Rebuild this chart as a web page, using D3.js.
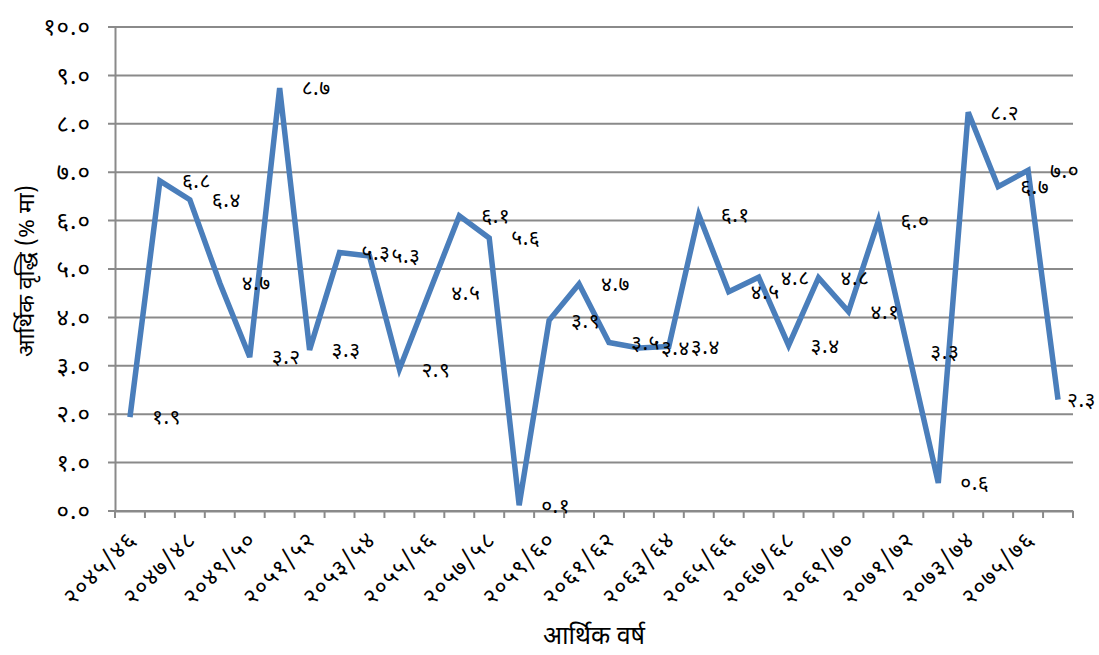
<!DOCTYPE html>
<html>
<head>
<meta charset="utf-8">
<script src="https://cdn.jsdelivr.net/npm/d3@7"></script>
<style>
  body { margin: 0; background: #fff; }
  text { font-family: "Noto Sans Devanagari", "Noto Sans", sans-serif; fill: #000; }
</style>
</head>
<body>
<svg id="chart" width="1099" height="655"></svg>
<script>
// fiscal years (Bikram Sambat)
const years = [
  "२०४५/४६", "२०४६/४७", "२०४७/४८", "२०४८/४९", "२०४९/५०", "२०५०/५१", "२०५१/५२", "२०५२/५३",
  "२०५३/५४", "२०५४/५५", "२०५५/५६", "२०५६/५७", "२०५७/५८", "२०५८/५९", "२०५९/६०", "२०६०/६१",
  "२०६१/६२", "२०६२/६३", "२०६३/६४", "२०६४/६५", "२०६५/६६", "२०६६/६७", "२०६७/६८", "२०६८/६९",
  "२०६९/७०", "२०७०/७१", "२०७१/७२", "२०७२/७३", "२०७३/७४", "२०७४/७५", "२०७५/७६", "२०७६/७७"
];
// economic growth, percent
const growth = [
  1.94, 6.82, 6.43, 4.71, 3.18, 8.74, 3.33, 5.34,
  5.27, 2.93, 4.52, 6.1, 5.64, 0.12, 3.94, 4.69,
  3.48, 3.37, 3.4, 6.12, 4.53, 4.83, 3.42, 4.82,
  4.12, 6.0, 3.3, 0.58, 8.24, 6.7, 7.04, 2.3
];
const yTicks = [0, 1, 2, 3, 4, 5, 6, 7, 8, 9, 10];

const devDigits = "०१२३४५६७८९";
const toDev = s => String(s).replace(/[0-9]/g, d => devDigits[d]);

const svg = d3.select("#chart");
const m = { left: 115, right: 1073, top: 27, bottom: 511 };

const x = d3.scaleBand()
  .domain(years)
  .range([m.left, m.right]);

const y = d3.scaleLinear()
  .domain([0, 10])
  .range([m.bottom, m.top]);

const gridColor = "#8a8a8a";

// horizontal gridlines
svg.append("g")
  .selectAll("line")
  .data(yTicks)
  .enter()
  .append("line")
  .attr("x1", m.left - 7)
  .attr("x2", m.right)
  .attr("y1", d => y(d))
  .attr("y2", d => y(d))
  .attr("stroke", gridColor)
  .attr("stroke-width", 2);

// y axis
const yAxis = d3.axisLeft(y)
  .tickValues(yTicks)
  .tickSize(0)
  .tickPadding(24)
  .tickFormat(d => toDev(d.toFixed(1)));
const gy = svg.append("g")
  .attr("transform", `translate(${m.left},0)`)
  .call(yAxis);
gy.select(".domain").attr("stroke", gridColor).attr("stroke-width", 2);
gy.selectAll("text")
  .attr("font-size", 24)
  .attr("letter-spacing", 1)
  .attr("fill", "#000");

// x axis: ticks on category boundaries
const bounds = years.map(d => x(d)).concat([m.right]);
svg.append("g")
  .selectAll("line")
  .data(bounds)
  .enter()
  .append("line")
  .attr("x1", d => d)
  .attr("x2", d => d)
  .attr("y1", m.bottom)
  .attr("y2", m.bottom + 7)
  .attr("stroke", gridColor)
  .attr("stroke-width", 2);

const xAxis = d3.axisBottom(x)
  .tickValues(years.filter((d, i) => i % 2 === 0))
  .tickSize(0);
const gx = svg.append("g")
  .attr("transform", `translate(0,${m.bottom})`)
  .call(xAxis);
gx.select(".domain").attr("stroke", gridColor).attr("stroke-width", 2);
gx.selectAll(".tick text")
  .attr("font-size", 23)
  .attr("letter-spacing", 1.5)
  .attr("fill", "#000")
  .attr("text-anchor", "end")
  .attr("dy", null)
  .attr("y", 0)
  .attr("transform", "translate(8,30) rotate(-45)");

// line
const line = d3.line()
  .x((d, i) => x(years[i]) + x.bandwidth() / 2)
  .y(d => y(d));

svg.append("path")
  .datum(growth)
  .attr("fill", "none")
  .attr("stroke", "#4a7ebb")
  .attr("stroke-width", 5.5)
  .attr("stroke-linejoin", "miter")
  .attr("d", line);

// data labels (the last one sits closer so it stays inside the frame)
const last = growth.length - 1;
svg.append("g")
  .selectAll("text")
  .data(growth)
  .enter()
  .append("text")
  .attr("x", (d, i) => x(years[i]) + x.bandwidth() / 2 + (i === last ? 9 : 22))
  .attr("y", d => y(d))
  .attr("dy", "0.35em")
  .attr("font-size", 21)
  .attr("letter-spacing", d => 0.5)
  .text(d => toDev(d.toFixed(1)));

// axis titles
svg.append("text")
  .attr("transform", `translate(34,${(m.top + m.bottom) / 2 + 2}) rotate(-90)`)
  .attr("text-anchor", "middle")
  .attr("font-size", 23)
  .text("आर्थिक वृद्धि (% मा)");

svg.append("text")
  .attr("x", 594)
  .attr("y", 644)
  .attr("text-anchor", "middle")
  .attr("font-size", 25)
  .text("आर्थिक वर्ष");
</script>
</body>
</html>
